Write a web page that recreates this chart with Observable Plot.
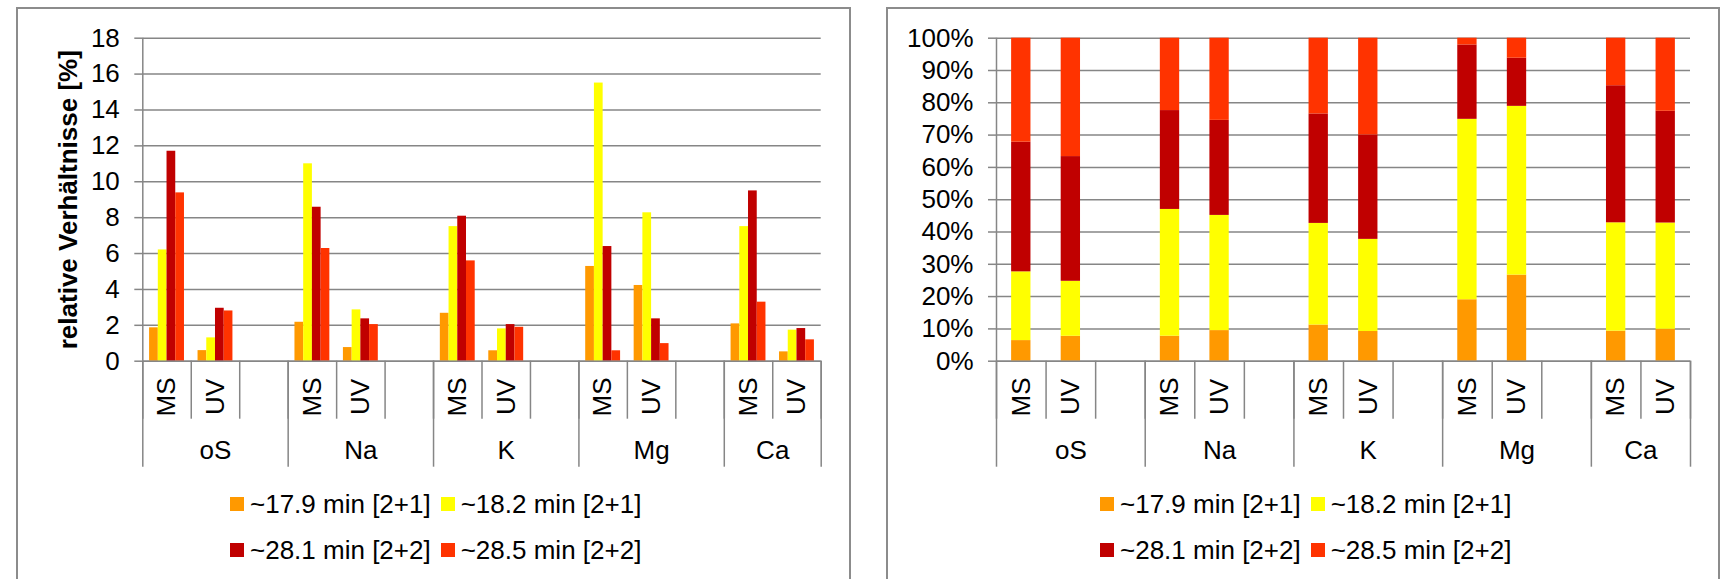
<!DOCTYPE html>
<html><head><meta charset="utf-8">
<script src="https://cdn.jsdelivr.net/npm/d3@7"></script>
<script src="https://cdn.jsdelivr.net/npm/@observablehq/plot@0.6"></script>
<style>
html,body{margin:0;padding:0;background:#fff;overflow:hidden;width:1728px;height:579px;font-family:"Liberation Sans",Arial,sans-serif;}
.panel{position:absolute;top:7px;height:700px;border:2px solid #8c8c8c;box-sizing:border-box;pointer-events:none;z-index:5;}
.chart{position:absolute;top:0;}
.chart svg{max-width:none;}
.legend{position:absolute;display:flex;flex-wrap:wrap;width:440px;font-size:26px;color:#000;}
.item{display:flex;align-items:center;height:46px;margin-right:10px;white-space:nowrap;}
.sw{width:14px;height:14px;margin-right:6px;flex:none;}
</style></head><body>
<div id="c1" class="chart" style="left:0px"></div>
<div id="c2" class="chart" style="left:866px"></div>
<div class="panel" style="left:16px;width:835px"></div>
<div class="panel" style="left:886px;width:834px"></div>
<div id="l1" class="legend" style="left:230px;top:481px"></div>
<div id="l2" class="legend" style="left:1100px;top:481px"></div>
<script>
// ---- data ----
const groups = ["oS", "Na", "K", "Mg", "Ca"];
const methods = ["MS", "UV"];
const seriesNames = ["~17.9 min [2+1]", "~18.2 min [2+1]", "~28.1 min [2+2]", "~28.5 min [2+2]"];
const seriesColors = ["#FF9900", "#FFFF00", "#C00000", "#FF3300"];
// order: oS-MS, oS-UV, Na-MS, Na-UV, K-MS, K-UV, Mg-MS, Mg-UV, Ca-MS, Ca-UV
const v179 = [1.86, 0.59, 2.17, 0.76, 2.67, 0.58, 5.28, 4.22, 2.08, 0.52];
const v182 = [6.2, 1.3, 11.0, 2.86, 7.5, 1.8, 15.5, 8.27, 7.5, 1.73];
const v281 = [11.7, 2.95, 8.58, 2.36, 8.08, 2.04, 6.39, 2.36, 9.49, 1.82];
const v285 = [9.38, 2.8, 6.28, 2.04, 5.59, 1.89, 0.58, 0.98, 3.29, 1.19];
const yTicksLeft = [0, 2, 4, 6, 8, 10, 12, 14, 16, 18];
const yTicksRight = [0, 0.1, 0.2, 0.3, 0.4, 0.5, 0.6, 0.7, 0.8, 0.9, 1.0];
const yTitle = "relative Verhältnisse [%]";

const seriesValues = [v179, v182, v281, v285];
const slotsPerGroup = methods.length + 1;
const nSlots = groups.length * slotsPerGroup - 1;
const rows = [];
const cats = [];
groups.forEach((g, gi) => methods.forEach((m, mi) => {
  const k = gi * methods.length + mi;
  const slot = gi * slotsPerGroup + mi;
  cats.push({group: g, method: m, slot});
  seriesNames.forEach((s, si) => rows.push({group: g, method: m, slot, series: s, si, value: seriesValues[si][k]}));
}));
const groupSpans = groups.map((g, gi) => ({group: g, start: gi * slotsPerGroup, end: Math.min(gi * slotsPerGroup + slotsPerGroup, nSlots)}));

const GRAY = "#868686";
const FONT = "'Liberation Sans', Arial, sans-serif";
const H = 480, MT = 37.7, MB = 119.3;

function xDecor() {
  return [
    Plot.axisX({ticks: d3.range(0, nSlots + 1), tickSize: 58, tickFormat: () => "", stroke: GRAY, strokeWidth: 1.5, label: null}),
    Plot.axisX({ticks: [...groupSpans.map(d => d.start), nSlots], tickSize: 106, tickFormat: () => "", stroke: GRAY, strokeWidth: 1.5, label: null}),
    Plot.text(cats, {x: d => d.slot + 0.5, text: "method", frameAnchor: "bottom", dy: 35.8, rotate: -90, textAnchor: "middle", lineAnchor: "middle", fill: "#000"}),
    Plot.text(groupSpans, {x: d => (d.start + d.end) / 2, text: "group", frameAnchor: "bottom", dy: 89.5, lineAnchor: "middle", fill: "#000"})
  ];
}
const colorScale = {domain: seriesNames, range: seriesColors};
const style = {fontFamily: FONT, fontSize: "26px", color: "#000", background: "white"};

// ---- left chart ----
const W1 = 866, ML1 = 142.3, MR1 = 45.3;
const slotW1 = (W1 - ML1 - MR1) / nSlots;
const barW = slotW1 * 0.18;
const off = (slotW1 - seriesNames.length * barW) / 2;
const left = Plot.plot({
  width: W1, height: H, marginLeft: ML1, marginRight: MR1, marginTop: MT, marginBottom: MB,
  style,
  x: {domain: [0, nSlots]},
  y: {domain: [0, 18], label: null},
  color: colorScale,
  marks: [
    Plot.gridY({ticks: yTicksLeft, stroke: GRAY, strokeOpacity: 1, strokeWidth: 1.5}),
    ...seriesNames.map((s, si) => Plot.rect(rows.filter(d => d.si === si), {
      x1: "slot", x2: d => d.slot + 1, y1: 0, y2: "value", fill: "series",
      insetLeft: off + si * barW, insetRight: slotW1 - off - (si + 1) * barW
    })),
    Plot.ruleX([0], {stroke: GRAY, strokeWidth: 1.5}),
    Plot.ruleY([0], {stroke: GRAY, strokeWidth: 1.5}),
    Plot.axisY({ticks: yTicksLeft, tickSize: 8, tickPadding: 15, stroke: GRAY, strokeWidth: 1.5, label: null, fill: "#000"}),
    Plot.text([yTitle], {text: d => d, frameAnchor: "left", dx: -74.5, rotate: -90, textAnchor: "middle", lineAnchor: "middle", fontWeight: "bold", fill: "#000"}),
    ...xDecor()
  ]
});
document.getElementById("c1").append(left);

// ---- right chart ----
const W2 = 862, ML2 = 130, MR2 = 38;
const slotW2 = (W2 - ML2 - MR2) / nSlots;
const ins = slotW2 * 0.305;
const right = Plot.plot({
  width: W2, height: H, marginLeft: ML2, marginRight: MR2, marginTop: MT, marginBottom: MB,
  style,
  x: {domain: [0, nSlots]},
  y: {domain: [0, 1], label: null},
  color: colorScale,
  marks: [
    Plot.gridY({ticks: yTicksRight, stroke: GRAY, strokeOpacity: 1, strokeWidth: 1.5}),
    Plot.rect(rows, Plot.stackY({offset: "normalize"}, {
      x1: "slot", x2: d => d.slot + 1, y: "value", z: "series", fill: "series",
      insetLeft: ins, insetRight: ins
    })),
    Plot.ruleX([0], {stroke: GRAY, strokeWidth: 1.5}),
    Plot.ruleY([0], {stroke: GRAY, strokeWidth: 1.5}),
    Plot.axisY({ticks: yTicksRight, tickFormat: d3.format(".0%"), tickSize: 8, tickPadding: 15, stroke: GRAY, strokeWidth: 1.5, label: null, fill: "#000"}),
    ...xDecor()
  ]
});
document.getElementById("c2").append(right);

// ---- legends ----
for (const id of ["l1", "l2"]) {
  const el = document.getElementById(id);
  seriesNames.forEach((s, i) => {
    const item = document.createElement("div");
    item.className = "item";
    const sw = document.createElement("span");
    sw.className = "sw";
    sw.style.background = seriesColors[i];
    const tx = document.createElement("span");
    tx.textContent = s;
    item.append(sw, tx);
    el.append(item);
  });
}
</script>
</body></html>
